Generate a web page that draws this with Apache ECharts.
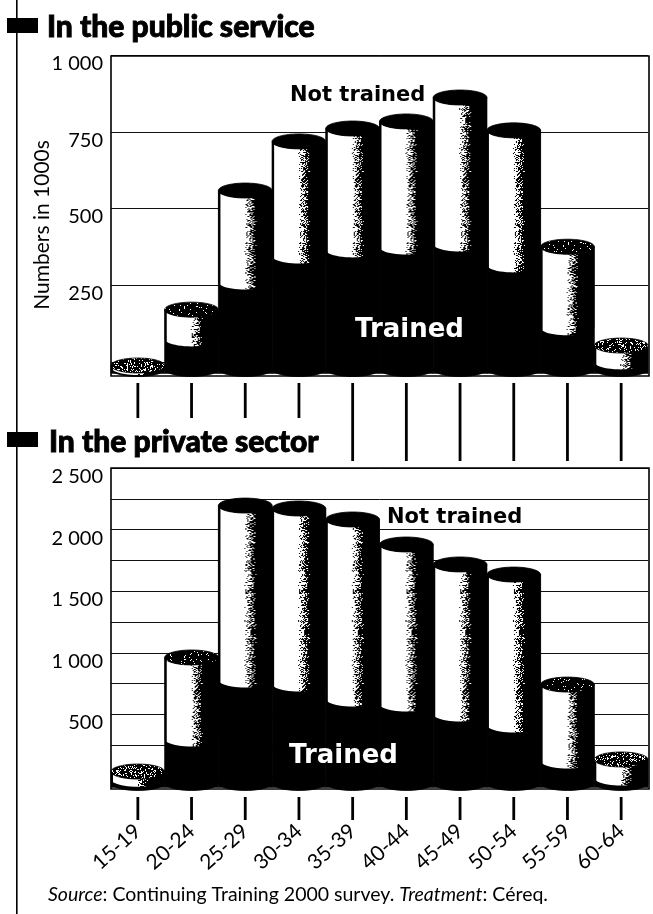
<!DOCTYPE html>
<html>
<head>
<meta charset="utf-8">
<title>Continuing training by age</title>
<style>html,body{margin:0;padding:0;background:#fff}#chart{width:653px;height:914px}</style>
<script src="https://cdn.jsdelivr.net/npm/echarts@6/dist/echarts.min.js"></script>
</head>
<body>
<div id="chart"></div>
<script>
// Age bands shared by both panels
const ageBands = ['15-19','20-24','25-29','30-34','35-39','40-44','45-49','50-54','55-59','60-64'];

// Public service, thousands of people
const publicTrained    = [5, 98, 283, 368, 388, 397, 407, 339, 134, 23];
const publicNotTrained = [8, 97, 300, 375, 397, 411, 479, 440, 266, 55];

// Private sector, thousands of people
const privateTrained    = [30, 357, 836, 804, 682, 641, 560, 471, 179, 41];
const privateNotTrained = [67, 666, 1420, 1428, 1461, 1299, 1218, 1225, 624, 154];

const INK = '#000';
const FLOOR_DROP = 7;   // cylinders stand this far in front of the back wall
const RY = 7.5;         // vertical radius of the cylinder ellipses

// Deterministic noise so the dithered shading is stable between renders
let noiseState = 20011;
function noise() {
  noiseState = (noiseState * 16807) % 2147483647;
  return noiseState / 2147483647;
}

// Dithered tile for the lit body of a cylinder: white on the left, black on the right
function bodyTile(w, h) {
  const c = document.createElement('canvas');
  c.width = w; c.height = h;
  const ctx = c.getContext('2d');
  const img = ctx.createImageData(w, h);
  for (let y = 0; y < h; y++) {
    for (let x = 0; x < w; x++) {
      const f = x / w;
      let p;
      if (f < 0.03) p = 1;
      else p = Math.max(0, Math.min(1, (f - 0.47) / 0.22));
      const v = noise() < p ? 0 : 255;
      const k = (y * w + x) * 4;
      img.data[k] = img.data[k + 1] = img.data[k + 2] = v;
      img.data[k + 3] = 255;
    }
  }
  ctx.putImageData(img, 0, 0);
  return c;
}

// Sparse white flecks for the tops of the shortest cylinders
function fleckTile(size, density) {
  const c = document.createElement('canvas');
  c.width = c.height = size;
  const ctx = c.getContext('2d');
  ctx.fillStyle = INK;
  ctx.fillRect(0, 0, size, size);
  ctx.fillStyle = '#fff';
  for (let y = 0; y < size; y++) {
    for (let x = 0; x < size; x++) {
      if (noise() < density) ctx.fillRect(x, y, 1, 1);
    }
  }
  return c;
}

const BODY = bodyTile(54, 256);
const FLECK_HEAVY = fleckTile(64, 0.2);
const FLECK_LIGHT = fleckTile(64, 0.05);

function ellipseArc(cx, cy, rx, ry, from, to, steps) {
  const pts = [];
  for (let s = 0; s <= steps; s++) {
    const a = from + (to - from) * s / steps;
    pts.push([cx + rx * Math.cos(a), cy + ry * Math.sin(a)]);
  }
  return pts;
}

function cylinderSeries(index, trained, notTrained, tick) {
  const rows = ageBands.map((b, i) => [i, trained[i], trained[i] + notTrained[i], i]);
  const maxTotal = Math.max.apply(null, rows.map(r => r[2]));
  return {
    type: 'custom',
    xAxisIndex: index,
    yAxisIndex: index,
    data: rows,
    encode: { x: 0, y: [1, 2] },
    clip: false,
    z: 5,
    renderItem(params, api) {
      const i = api.value(0);
      const cx = api.coord([i, 0])[0];
      const w = api.size([1, 0])[0];
      const rx = w / 2;
      const left = cx - rx;
      const right = cx + rx;
      const base = api.coord([i, 0])[1] + FLOOR_DROP;
      const mid = api.coord([i, api.value(1)])[1] + FLOOR_DROP;
      const top = api.coord([i, api.value(2)])[1] + RY;
      const share = api.value(2) / maxTotal;

      const silhouette = [[left, top]]
        .concat(ellipseArc(cx, base, rx, RY, Math.PI, 0, 24))
        .concat([[right, top]]);
      const lit = ellipseArc(cx, mid, rx, RY, Math.PI, 0, 24)
        .concat(ellipseArc(cx, top, rx, RY, 0, Math.PI, 24));

      let capFill = INK;
      if (share < 0.12) capFill = { image: FLECK_HEAVY, repeat: 'repeat' };
      else if (share < 0.5) capFill = { image: FLECK_LIGHT, repeat: 'repeat' };

      const children = [
        { type: 'polygon', shape: { points: silhouette }, style: { fill: INK, stroke: INK, lineWidth: 0.8 } },
        { type: 'rect', shape: { x: left, y: base, width: w, height: 4.5 }, style: { fill: INK, stroke: INK, lineWidth: 0.5 } }
      ];
      if (mid > top) {
        children.push({
          type: 'polygon',
          shape: { points: lit },
          style: { fill: { image: BODY, repeat: 'repeat', x: left, y: 0 } }
        });
      }
      children.push({
        type: 'ellipse',
        shape: { cx: cx, cy: top, rx: rx, ry: RY },
        style: { fill: capFill, stroke: INK, lineWidth: 0.8 }
      });
      // Tick below the floor; some run down past the next heading
      const tickEnd = base + (i >= tick.longFrom ? tick.long : tick.short);
      children.push({
        type: 'line',
        shape: { x1: cx, y1: base + 14, x2: cx, y2: tickEnd },
        style: { stroke: INK, lineWidth: 2.8 }
      });
      return { type: 'group', children: children };
    }
  };
}

function thousands(v) {
  if (v === 0) return '';
  const s = String(v);
  return s.length > 3 ? s.slice(0, -3) + ' ' + s.slice(-3) : s;
}

const axisFont = { fontFamily: 'Lato', fontSize: 20, color: '#000', verticalAlign: 'top', lineHeight: 17 };
const yBase = {
  type: 'value',
  min: 0,
  axisLine: { show: false },
  axisTick: { show: false },
  splitLine: { show: true, lineStyle: { color: '#111', width: 1 } }
};

function frame(x, y, w, h) {
  return {
    type: 'rect', z: 4,
    shape: { x: x, y: y, width: w, height: h },
    style: { fill: 'none', stroke: INK, lineWidth: 1.6 }
  };
}
function text(x, y, str, family, size, fill, weight, outline) {
  return {
    type: 'text', z: 20, x: x, y: y,
    style: {
      text: str, fill: fill, fontFamily: family, fontSize: size,
      fontWeight: weight, verticalAlign: 'middle',
      stroke: outline ? fill : 'none', lineWidth: outline || 0
    }
  };
}

const option = {
  animation: false,
  backgroundColor: '#fff',
  grid: [
    { left: 111, top: 55, width: 537, height: 307 },
    { left: 111, top: 468, width: 537, height: 308 }
  ],
  xAxis: [
    {
      type: 'category', gridIndex: 0, data: ageBands,
      axisLine: { show: false }, axisTick: { show: false }, axisLabel: { show: false }
    },
    {
      type: 'category', gridIndex: 1, data: ageBands,
      axisLine: { show: false }, axisTick: { show: false },
      axisLabel: {
        show: true, interval: 0, rotate: 42, margin: 52,
        fontFamily: 'Lato', fontSize: 21, color: '#000'
      }
    }
  ],
  yAxis: [
    Object.assign({}, yBase, {
      gridIndex: 0, max: 1000, interval: 250,
      axisLabel: Object.assign({}, axisFont, { margin: 8, formatter: thousands })
    }),
    Object.assign({}, yBase, {
      gridIndex: 1, max: 2500, interval: 250,
      axisLabel: Object.assign({}, axisFont, {
        margin: 8,
        formatter: v => (v % 500 === 0 ? thousands(v) : '')
      })
    })
  ],
  series: [
    cylinderSeries(0, publicTrained, publicNotTrained, { longFrom: 4, short: 49, long: 92 }),
    cylinderSeries(1, privateTrained, privateNotTrained, { longFrom: 99, short: 37, long: 37 })
  ],
  graphic: { elements: [
    { type: 'rect', z: 1, shape: { x: 16, y: 0, width: 1.6, height: 914 }, style: { fill: INK } },
    { type: 'rect', z: 1, shape: { x: 7, y: 18, width: 31, height: 15 }, style: { fill: INK } },
    { type: 'rect', z: 1, shape: { x: 7, y: 432, width: 31, height: 15 }, style: { fill: INK } },
    frame(111, 56, 538, 320),
    frame(111, 468, 538, 321),
    text(47, 27, 'In the public service', 'Lato', 30, INK, 900, 0.9),
    text(49, 442, 'In the private sector', 'Lato', 30, INK, 900, 0.9),
    text(290, 96, 'Not trained', 'DejaVu Sans', 21, INK, 700),
    text(355, 330, 'Trained', 'DejaVu Sans', 26, '#fff', 700),
    text(387, 518, 'Not trained', 'DejaVu Sans', 21, INK, 700),
    text(289, 756, 'Trained', 'DejaVu Sans', 26, '#fff', 700),
    {
      type: 'text', z: 20, x: 42, y: 225, rotation: Math.PI / 2,
      style: {
        text: 'Numbers in 1000s', fill: INK, fontFamily: 'Lato', fontSize: 21,
        align: 'center', verticalAlign: 'middle'
      }
    },
    {
      type: 'text', z: 20, x: 48, y: 895,
      style: {
        text: '{i|Source}: Continuing Training 2000 survey. {i|Treatment}: Céreq.',
        verticalAlign: 'middle', fill: INK, fontFamily: 'Lato', fontSize: 19.5,
        rich: { i: { fontStyle: 'italic', fontFamily: 'Lato', fontSize: 19.5, fill: INK } }
      }
    }
  ] }
};

echarts.init(document.getElementById('chart')).setOption(option);
</script>
</body>
</html>
